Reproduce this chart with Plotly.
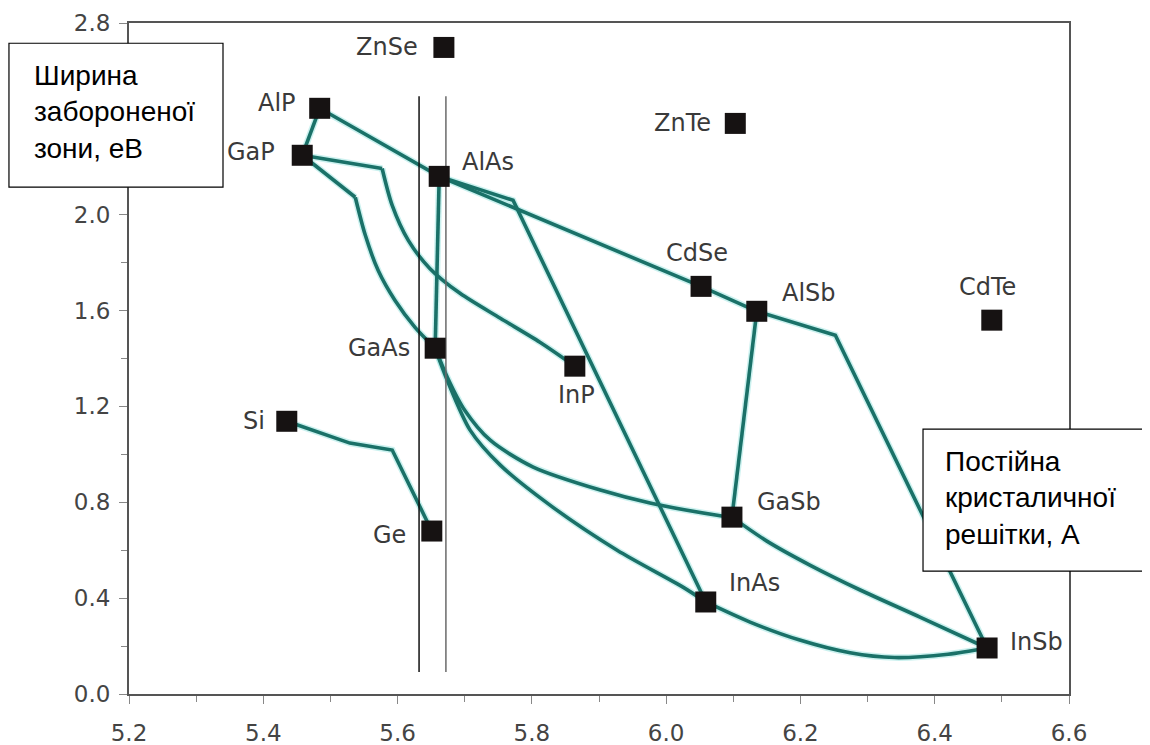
import plotly.graph_objects as go

# ---------------- data ----------------
compounds = ["ZnSe", "AlP", "GaP", "AlAs", "ZnTe", "CdSe", "AlSb", "CdTe",
             "GaAs", "InP", "Si", "Ge", "GaSb", "InAs", "InSb"]
lattice = [5.669, 5.484, 5.458, 5.662, 6.103, 6.052, 6.135, 6.485,
           5.656, 5.864, 5.435, 5.651, 6.098, 6.059, 6.478]
bandgap = [2.698, 2.444, 2.248, 2.160, 2.381, 1.701, 1.597, 1.560,
           1.443, 1.368, 1.138, 0.680, 0.738, 0.384, 0.192]

# straight connecting lines (x, y)
alp_gap_x = [5.484, 5.458]
alp_gap_y = [2.444, 2.248]
alp_insb_x = [5.484, 5.662, 6.052, 6.135, 6.252, 6.478]
alp_insb_y = [2.444, 2.160, 1.701, 1.597, 1.497, 0.192]
alas_inas_x = [5.662, 5.772, 6.059]
alas_inas_y = [2.160, 2.060, 0.384]
alas_gaas_x = [5.662, 5.656]
alas_gaas_y = [2.160, 1.443]
alsb_gasb_x = [6.135, 6.098]
alsb_gasb_y = [1.597, 0.738]
si_ge_x = [5.435, 5.529, 5.592, 5.651]
si_ge_y = [1.138, 1.047, 1.018, 0.680]
gap_inp_a_x = [5.458, 5.577]
gap_inp_a_y = [2.248, 2.193]
gap_gaas_a_x = [5.458, 5.537]
gap_gaas_a_y = [2.248, 2.073]

# curved connecting lines (x, y)
gap_inp_b_x = [5.577, 5.592, 5.616, 5.648, 5.693, 5.753, 5.812, 5.864]
gap_inp_b_y = [2.193, 2.039, 1.893, 1.776, 1.672, 1.568, 1.468, 1.368]
gap_gaas_b_x = [5.537, 5.552, 5.571, 5.596, 5.626, 5.656]
gap_gaas_b_y = [2.073, 1.914, 1.768, 1.643, 1.530, 1.443]
gaas_gasb_x = [5.656, 5.674, 5.700, 5.738, 5.802, 5.902, 5.976, 6.076, 6.098]
gaas_gasb_y = [1.443, 1.322, 1.184, 1.059, 0.947, 0.851, 0.797, 0.746, 0.738]
gaas_inas_x = [5.656, 5.674, 5.708, 5.753, 5.827, 5.927, 6.025, 6.059]
gaas_inas_y = [1.443, 1.309, 1.101, 0.955, 0.788, 0.600, 0.446, 0.384]
inas_insb_x = [6.059, 6.125, 6.199, 6.274, 6.340, 6.420, 6.478]
inas_insb_y = [0.384, 0.300, 0.225, 0.172, 0.152, 0.166, 0.192]
gasb_insb_x = [6.098, 6.150, 6.214, 6.289, 6.378, 6.478]
gasb_insb_y = [0.738, 0.638, 0.538, 0.434, 0.321, 0.192]

# vertical reference lines
vline_black_x = [5.632, 5.632]
vline_grey_x = [5.672, 5.672]
vline_y = [0.092, 2.494]

x_ticks = [5.2, 5.4, 5.6, 5.8, 6.0, 6.2, 6.4, 6.6]
x_labels = ["5.2", "5.4", "5.6", "5.8", "6.0", "6.2", "6.4", "6.6"]
y_ticks = [0.0, 0.4, 0.8, 1.2, 1.6, 2.0, 2.4, 2.8]
y_labels = ["0.0", "0.4", "0.8", "1.2", "1.6", "2.0", "", "2.8"]  # 2.4 hidden by the box

box1_text = "Ширина<br>забороненої<br>зони, еВ"
box2_text = "Постійна<br>кристаличної<br>решітки, А"

# ---------------- styling ----------------
TEAL = "#1a7168"
HALO = "rgba(140,225,220,0.45)"
LINE_W = 3.6

straight = [(alp_gap_x, alp_gap_y), (alp_insb_x, alp_insb_y),
            (alas_inas_x, alas_inas_y), (alas_gaas_x, alas_gaas_y),
            (alsb_gasb_x, alsb_gasb_y), (si_ge_x, si_ge_y),
            (gap_inp_a_x, gap_inp_a_y), (gap_gaas_a_x, gap_gaas_a_y)]
curved = [(gap_inp_b_x, gap_inp_b_y), (gap_gaas_b_x, gap_gaas_b_y),
          (gaas_gasb_x, gaas_gasb_y), (gaas_inas_x, gaas_inas_y),
          (inas_insb_x, inas_insb_y), (gasb_insb_x, gasb_insb_y)]

fig = go.Figure()

for width, color in ((LINE_W + 3, HALO), (LINE_W, TEAL)):
    for xs, ys in straight:
        fig.add_trace(go.Scatter(x=xs, y=ys, mode="lines",
                                 line=dict(color=color, width=width),
                                 hoverinfo="skip", showlegend=False))
    for xs, ys in curved:
        fig.add_trace(go.Scatter(x=xs, y=ys, mode="lines",
                                 line=dict(color=color, width=width,
                                           shape="spline", smoothing=0.8),
                                 hoverinfo="skip", showlegend=False))

# vertical lines
fig.add_trace(go.Scatter(x=vline_black_x, y=vline_y, mode="lines",
                         line=dict(color="#111111", width=1.5),
                         hoverinfo="skip", showlegend=False))
fig.add_trace(go.Scatter(x=vline_grey_x, y=vline_y, mode="lines",
                         line=dict(color="#6a6a6a", width=1.5),
                         hoverinfo="skip", showlegend=False))

# markers
fig.add_trace(go.Scatter(x=lattice, y=bandgap, mode="markers",
                         marker=dict(symbol="square", size=21, color="#161212",
                                     line=dict(width=0)),
                         text=compounds, hoverinfo="text", showlegend=False))

# label offsets (pixels): xanchor, xshift, yshift
label_pos = {
    "ZnSe": ("right", -24, 0), "AlP": ("right", -22, 5), "GaP": ("right", -25, 3),
    "AlAs": ("left", 21, 14), "ZnTe": ("right", -22, 0), "CdSe": ("center", -4, 33),
    "AlSb": ("left", 23, 18), "CdTe": ("center", -4, 33), "GaAs": ("right", -23, 0),
    "InP": ("center", 2, -29), "Si": ("right", -20, 0), "Ge": ("right", -24, -4),
    "GaSb": ("left", 23, 15), "InAs": ("left", 21, 19), "InSb": ("left", 21, 6),
}
annotations = []
for name, xv, yv in zip(compounds, lattice, bandgap):
    xa, xs, ys = label_pos[name]
    annotations.append(dict(x=xv, y=yv, xref="x", yref="y", text=name,
                            showarrow=False, xanchor=xa, yanchor="middle",
                            xshift=xs, yshift=ys,
                            font=dict(family="DejaVu Sans", size=24, color="#3a3a3a")))

# text boxes
annotations.append(dict(x=-0.1032, y=0.867, xref="paper", yref="paper",
                        text=box1_text, showarrow=False, xanchor="left",
                        yanchor="middle", align="left",
                        font=dict(family="Liberation Sans", size=28, color="#000000")))
annotations.append(dict(x=0.866, y=0.292, xref="paper", yref="paper",
                        text=box2_text, showarrow=False, xanchor="left",
                        yanchor="middle", align="left",
                        font=dict(family="Liberation Sans", size=28, color="#000000")))

shapes = [
    dict(type="rect", xref="paper", yref="paper", x0=-0.1277, x1=0.1,
         y0=0.7553, y1=0.9698, line=dict(color="#000000", width=1.2),
         fillcolor="white", layer="above"),
    dict(type="rect", xref="paper", yref="paper", x0=0.8447, x1=1.09,
         y0=0.1832, y1=0.3948, line=dict(color="#000000", width=1.2),
         fillcolor="white", layer="above"),
]

axis_common = dict(showgrid=False, zeroline=False, showline=True, mirror=True,
                   linecolor="#555555", linewidth=2, ticks="outside",
                   ticklen=8, tickwidth=1, tickcolor="#888888", automargin=False,
                   tickfont=dict(family="DejaVu Sans", size=23, color="#444444"))

# the page body adds an ~8px offset, so the figure is sized/shifted to compensate
fig.update_layout(
    width=1142, height=737,
    margin=dict(l=121, r=81, t=15, b=51, autoexpand=False),
    paper_bgcolor="white", plot_bgcolor="white",
    xaxis=dict(range=[5.2, 6.6], tickvals=x_ticks, ticktext=x_labels,
               minor=dict(dtick=0.1, ticks="outside", ticklen=6, tickcolor="#888888"),
               ticklabelstandoff=9, **axis_common),
    yaxis=dict(range=[0, 2.8], tickvals=y_ticks, ticktext=y_labels,
               minor=dict(dtick=0.2, ticks="outside", ticklen=6, tickcolor="#888888"),
               ticklabelstandoff=4, **axis_common),
    annotations=annotations,
    shapes=shapes,
)

fig.write_html("out.html")
